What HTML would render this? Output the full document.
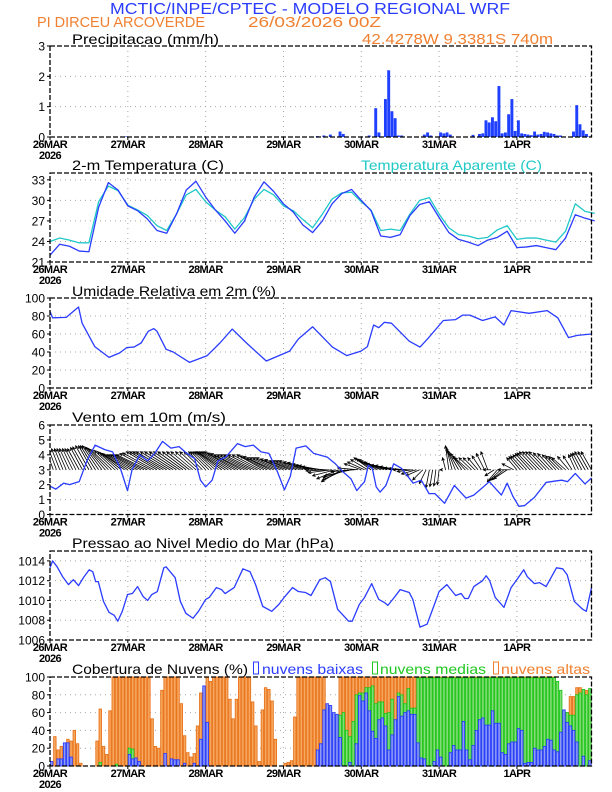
<!DOCTYPE html>
<html><head><meta charset="utf-8"><title>Meteograma WRF</title>
<style>
html,body{margin:0;padding:0;background:#fff;}
svg{display:block;font-family:"Liberation Sans",sans-serif;}
.yl{font-size:12px;fill:#000;text-anchor:end;}
.xl{font-size:11px;font-weight:bold;fill:#000;text-anchor:middle;letter-spacing:-0.6px;}
.pt{font-size:14px;fill:#000;}
</style></head>
<body>
<svg id="chart" width="612" height="792" viewBox="0 0 612 792" xmlns="http://www.w3.org/2000/svg">
<rect x="0" y="0" width="612" height="792" fill="#fff"/>
<text x="110" y="14" font-size="16" fill="#2a3cff" textLength="400" lengthAdjust="spacingAndGlyphs">MCTIC/INPE/CPTEC - MODELO REGIONAL WRF</text>
<text x="37" y="27" font-size="15" fill="#f08030" textLength="168" lengthAdjust="spacingAndGlyphs">PI DIRCEU ARCOVERDE</text>
<text x="248" y="27" font-size="15" fill="#f08030" textLength="133" lengthAdjust="spacingAndGlyphs">26/03/2026 00Z</text>
<text x="362" y="44" font-size="15" fill="#f08030" textLength="191" lengthAdjust="spacingAndGlyphs">42.4278W 9.3381S 740m</text>
<text class="pt" x="72" y="44" textLength="147" lengthAdjust="spacingAndGlyphs">Precipitacao (mm/h)</text>
<text class="pt" x="72" y="170" textLength="152" lengthAdjust="spacingAndGlyphs">2-m Temperatura (C)</text>
<text x="361" y="170" font-size="14" fill="#20c8c8" textLength="181" lengthAdjust="spacingAndGlyphs">Temperatura Aparente (C)</text>
<text class="pt" x="72" y="296" textLength="204" lengthAdjust="spacingAndGlyphs">Umidade Relativa em 2m (%)</text>
<text class="pt" x="72" y="422" textLength="154" lengthAdjust="spacingAndGlyphs">Vento em 10m (m/s)</text>
<text class="pt" x="72" y="548" textLength="262" lengthAdjust="spacingAndGlyphs">Pressao ao Nivel Medio do Mar (hPa)</text>
<text class="pt" x="72" y="674" textLength="176" lengthAdjust="spacingAndGlyphs">Cobertura de Nuvens (%)</text>
<rect x="253.5" y="662" width="5" height="12" fill="none" stroke="#2a3cff" stroke-width="1"/>
<text x="262" y="674" font-size="14" fill="#2a3cff" textLength="101" lengthAdjust="spacingAndGlyphs">nuvens baixas</text>
<rect x="372.5" y="662" width="5" height="12" fill="none" stroke="#20c820" stroke-width="1"/>
<text x="380" y="674" font-size="14" fill="#20c820" textLength="106" lengthAdjust="spacingAndGlyphs">nuvens medias</text>
<rect x="493.5" y="662" width="5" height="12" fill="none" stroke="#f08030" stroke-width="1"/>
<text x="501" y="674" font-size="14" fill="#f08030" textLength="89" lengthAdjust="spacingAndGlyphs">nuvens altas</text>
<g id="layer"></g>
</svg>
<script>
// ---- shared axis data ----
const dayLabels = ["26MAR","27MAR","28MAR","29MAR","30MAR","31MAR","1APR"];
const yearLabel = "2026";
// ---- precipitation (mm/h) ----
const precipHours = [23,82,84,86,89,90,98,100,101,103,104,105,106,107,108,115,116,117,120,121,122,123,130,132,133,134,135,136,137,138,139,140,141,142,143,144,145,146,147,148,149,150,151,152,153,154,155,156,157,161,162,163,164,165,166];
const precipValues = [0.02,0.03,0.05,0.08,0.18,0.1,0.05,0.95,0.15,1.25,2.2,0.85,0.62,0.05,0.05,0.08,0.15,0.05,0.15,0.12,0.15,0.08,0.07,0.1,0.12,0.55,0.48,0.65,0.52,1.68,0.12,0.15,0.75,1.25,0.2,0.55,0.12,0.1,0.08,0.06,0.18,0.08,0.1,0.17,0.15,0.12,0.1,0.05,0.05,0.18,1.05,0.42,0.22,0.1,0.02];
const precipTicks = [0,1,2,3];
// ---- temperature (C), 3-hourly ----
const tempHours = [0,3,6,9,12,15,18,21,24,27,30,33,36,39,42,45,48,51,54,57,60,63,66,69,72,75,78,81,84,87,90,93,96,99,102,105,108,111,114,117,120,123,126,129,132,135,138,141,144,147,150,153,156,159,162,165,168];
const tempValues = [22.0,23.6,23.3,22.6,22.5,29.0,32.6,31.5,29.2,28.5,27.3,25.6,25.2,28.0,31.5,32.8,30.5,28.6,27.0,25.2,27.0,30.5,32.7,31.3,29.5,28.3,26.4,25.3,27.0,29.5,31.0,31.6,30.0,28.5,24.8,24.6,25.0,27.8,29.4,29.8,27.5,25.3,24.3,23.9,23.4,24.2,24.6,25.5,23.1,23.2,23.4,23.1,22.8,24.5,27.9,27.4,27.0];
const apparentValues = [24.0,24.5,24.2,23.8,23.8,29.8,32.1,31.4,29.3,28.6,27.8,26.3,25.6,28.0,30.8,31.6,29.8,28.6,27.6,25.8,27.5,30.2,31.6,30.8,29.2,28.5,27.2,26.0,28.0,30.2,31.1,31.2,29.8,28.6,25.6,25.8,25.6,28.0,30.0,30.4,28.0,26.0,25.0,24.8,24.4,24.6,25.7,26.3,24.3,24.5,24.5,24.2,23.9,25.5,29.5,28.4,28.1];
const tempTicks = [21,24,27,30,33];
// ---- relative humidity (%) ----
const humHours = [0,0.8,5,8.8,9.9,13.8,18.2,21.5,23.7,25.9,28.1,30.3,32,33,35.8,38,43,48.5,52.4,56.2,60.6,66.7,73.9,76.6,81,87.1,91.5,95.9,97.9,99.8,101.4,103.1,105.3,110.8,114.1,116.3,121.3,125.1,127.3,129.5,133.4,137.3,140,142.2,147.7,153.3,156.6,159.9,162.6,167];
const humValues = [85,78,78.5,90,72,46,34,39,45,45.5,50,63,66,63,43,40,28.5,36,50,65.5,50,30,41,54.5,68,45.5,36,41,46,70,67,73,72,52,45.5,54,75,76,81,81,75,79,70,86,83,86,78,56,58.5,60];
const humTicks = [0,20,40,60,80,100];
// ---- wind speed (m/s) ----
const windHours = [0,1.8,4.2,6,9,11.4,13.9,16.9,19.3,21.7,23.9,25.3,27.7,30.1,32.3,34.7,37.3,39.8,42.2,44.6,46.4,48,50,51.8,54.2,57.8,60.2,62.7,65.1,67.5,69.9,72.3,74.1,75.9,78.9,81.3,85.5,88,90.4,92.8,94.6,97,98.2,99.4,100.6,101.8,103.6,106,108.4,112,114.5,116.9,118.7,121.7,124.7,128.3,130.7,135.5,139.2,141,142.8,144.6,146.4,149.4,153,156,157.8,159.6,162,165,167];
const windSpeed = [1.9,1.7,2.1,2.0,2.2,3.6,4.65,4.35,4.2,3.1,1.6,3.0,4.0,3.6,4.1,4.9,4.45,4.55,4.1,3.75,2.3,1.85,2.3,3.6,3.85,4.75,4.55,4.65,4.2,4.1,3.0,1.65,2.55,4.45,4.6,4.1,3.85,3.4,2.85,2.4,1.6,2.2,3.3,3.1,1.85,1.5,1.95,3.4,3.1,2.1,2.3,1.4,1.4,0.75,1.95,1.1,1.3,2.2,1.3,2.1,1.2,0.55,0.6,1.15,2.15,2.25,2.3,2.2,2.75,2.05,2.45];
// hourly wind vectors (u east, v north, m/s), index = forecast hour
const windU = [-1.8,-2,-2.2,-2.4,-2.5,-2.7,-2.9,-3,-3.2,-3.4,-3.5,-3.8,-3.9,-4,-4.4,-4.8,-5,-5.5,-5.8,-6,-6,-6,-6.2,-6.6,-7,-7.4,-7.8,-8,-8.4,-8.7,-9,-9,-9.1,-9,-9,-9,-9,-8.7,-8.4,-8,-7.7,-7.4,-7,-6.7,-6.4,-6,-5.7,-5.4,-5,-5.3,-5.6,-6,-6.6,-7.3,-8,-8.4,-8.7,-9,-9,-9,-9,-9,-9,-9,-8.7,-8.4,-8,-8,-8,-8,-8,-8,-8,-7.7,-7.4,-7,-7,-7,-7,-6.7,-6.4,-6,-6,-6,-6,-6.3,-6.7,-7,-6.7,-6.4,-6,-6.7,-7.4,-8,-7,-6,-5,-5,-5,-5,-5.3,-5.6,-6,-6.3,-6.7,-7,-6.7,-6.4,-6,-5.7,-5.4,-5,-4.7,-4.4,-4,-3,-2,-1,-0.8,-0.6,-0.5,-0.7,-0.9,-1,-1.7,-2.4,-3,-3.3,-3.7,-4,-3.7,-3.4,-3,-2.7,-2.4,-2,-2.3,-2.7,-3,-3.3,-3.7,-4,-3.7,-3.4,-3,-3.3,-3.7,-4,-4.3,-4.7,-5,-5,-5,-5,-4.7,-4.4,-4,-4,-4,-4,-3.3,-2.6,-2,-2.3,-2.7,-3,-3,-3];
const windV = [3,3.2,3.3,3.5,3.5,3.5,3.5,3.5,3.5,3.5,3.7,3.8,4,4,4,4,3.8,3.7,3.5,3.3,3.2,3,2.8,2.7,2.5,2.5,2.5,2.5,2.5,2.5,2.5,2.7,2.8,3,3,3,3,3,3,3,3,3,3,3,3,3,3,3,3,3,3,3,3,3,3,3,3,3,2.8,2.7,2.5,2.5,2.5,2.5,2.5,2.5,2.5,2.3,2.2,2,2,2,2,1.8,1.7,1.5,1.5,1.5,1.5,1.3,1.2,1,0.8,0.7,0.5,0.2,-0.2,-0.5,-1,-1.5,-2,-1.7,-1.3,-1,-0.3,0.3,1,1.3,1.7,2,1.8,1.7,1.5,1.3,1.2,1,0.8,0.7,0.5,0.3,0.2,0,-0.3,-0.7,-1,-1.7,-2.3,-3,-2.8,-2.7,-2.5,0,2,4,3.7,3.3,3,2.7,2.3,2,2,2,2,2.3,2.7,3,0,-1,-2,-1.8,-1.7,-1.5,0,1,2,2.2,2.3,2.5,2.7,2.8,3,3,3,3,2.8,2.7,2.5,2.3,2.2,2,2.2,2.3,2.5,2.7,2.8,3,3,3];
const windTicks = [0,1,2,3,4,5,6];
// ---- pressure (hPa) ----
const presHours = [0,0.8,2.2,3.9,5.7,7.2,8.8,10.5,12.1,13.2,14.1,14.9,16.5,18.2,19.8,20.9,22.3,23.9,25.4,27,28.7,30.1,31.4,33.1,35.1,35.8,38.6,40.2,41.9,44.1,45.8,48,49.1,51.3,52.9,54,56.8,59.5,61.7,63.4,65.6,68.4,70.6,72.2,74.8,76.6,78.8,80.5,83.2,84.9,86.5,88.7,92.1,93.2,95.4,97,99.2,101.4,103.1,104.2,106.4,108,110.8,111.9,114.1,116.3,118,120,122.4,125.1,126.8,127.9,129,130.7,133.4,134.5,135.6,137.3,140,142.2,144.4,146.1,147.2,149.4,151,153,156.2,158.1,159.5,161.7,164.3,165.4,167];
const presValues = [1013.3,1014,1013.4,1012.4,1011.6,1012.1,1011.5,1012.4,1013.1,1012.9,1011.9,1011.9,1009.9,1008.8,1008.5,1007.9,1008.9,1010.6,1010.7,1011.4,1010.4,1010,1010.6,1010.9,1013.3,1013.4,1012.3,1009.9,1008.7,1008.2,1008.9,1010.1,1010.3,1011.3,1011.1,1010.7,1011.3,1013.2,1012.9,1011.6,1009.4,1008.9,1009.6,1010.3,1011.3,1010.9,1010.8,1010.5,1012.1,1012.3,1011.9,1009.1,1007.9,1007.9,1009.6,1010.3,1011.7,1010.1,1009.8,1009.5,1010.4,1011.1,1010.8,1010.1,1007.3,1007.6,1009.1,1010.9,1011.6,1010.5,1010.7,1010.2,1010.2,1011.4,1012,1012.5,1012,1010.3,1009.3,1011.3,1012.3,1013.1,1012.4,1011.7,1011.8,1011.4,1013.3,1013.2,1012.6,1009.9,1009.1,1008.9,1011.3];
const presTicks = [1006,1008,1010,1012,1014];
// ---- cloud cover (%), step entries: value holds from hour until next entry ----
const highHours = [0,1,2,3,4,5,6,7,8,9,10,14,15,16,17,18,19,31,32,33,34,35,40,41,42,43,44,45,46,47,48,49,50,55,56,57,58,62,63,64,65,66,67,68,69,70,72,73,74,75,76,85,86,87,88,89,156,160,162,164,166];
const highValues = [0,33,18,22,12,30,28,40,25,3,0,28,64,22,13,62,100,53,22,20,85,100,70,34,15,10,14,45,82,87,100,95,100,75,53,75,100,72,45,5,63,88,86,73,30,0,3,4,6,55,100,65,52,50,48,100,60,78,88,85,80];
const midHours = [0,15,16,20,21,24,25,26,88,89,90,91,92,93,94,95,97,99,100,101,103,104,105,106,107,108,109,110,111,113,156,157,158,159,160,162,163,164,165,166];
const midValues = [0,4,0,2,0,20,19,0,58,57,60,40,33,50,80,82,88,90,70,72,59,60,75,28,82,80,70,87,65,99,95,85,63,60,57,80,82,86,80,87];
const lowHours = [0,1,2,4,6,7,24,25,26,27,28,35,36,37,38,39,40,41,42,44,45,46,47,48,49,82,83,84,85,86,87,88,89,90,92,93,94,95,96,97,98,99,100,101,102,103,104,105,106,107,108,109,110,111,113,114,115,116,118,119,120,121,123,124,125,127,128,129,130,131,132,133,134,136,137,139,140,141,142,144,145,146,147,149,150,152,153,154,155,156,157,158,159,160,161,162,163,164,165,166];
const lowValues = [5,0,8,26,10,0,13,8,9,5,0,14,0,8,7,7,0,3,0,3,0,30,90,49,0,18,25,63,70,68,60,58,32,0,4,0,25,79,73,82,62,39,31,52,54,45,18,35,52,78,56,60,62,58,26,9,8,0,5,18,10,0,15,23,18,50,18,7,23,40,52,54,46,62,48,15,13,25,27,42,40,3,4,20,18,22,30,29,18,16,38,63,49,45,40,27,0,11,0,6];
const cloudTicks = [0,20,40,60,80,100];

// ---- geometry ----
const X0 = 50, X1 = 591.5, HMAX = 167;
function xS(h){ return X0 + h * (X1 - X0) / HMAX; }
const NS = "http://www.w3.org/2000/svg";
const layer = document.getElementById('layer');
function mk(tag, attrs, parent){
  const e = document.createElementNS(NS, tag);
  for (const k in attrs) e.setAttribute(k, attrs[k]);
  (parent || layer).appendChild(e);
  return e;
}
function yScale(p){ return v => p.bottom - (v - p.min) * (p.bottom - p.top) / (p.max - p.min); }

const panels = [
  {key:'precip', top:46, bottom:137, min:0, max:3, ticks:precipTicks},
  {key:'temp', top:173, bottom:262, min:21, max:34, ticks:tempTicks},
  {key:'humidity', top:298, bottom:388, min:0, max:100, ticks:humTicks},
  {key:'wind', top:425, bottom:514.5, min:0, max:6, ticks:windTicks},
  {key:'pressure', top:551, bottom:640, min:1006, max:1015, ticks:presTicks},
  {key:'cloud', top:677, bottom:766, min:0, max:100, ticks:cloudTicks}
];

function drawFrame(p){
  const y = yScale(p);
  const g = mk('g', {});
  
  
  p.ticks.forEach(t => {
    if (t === p.min || t === p.max) return;
    const l = mk('line', {x1:X0, x2:X1, y1:y(t), y2:y(t), stroke:'#a8a8a8', 'stroke-width':1, 'stroke-dasharray':'1,4'}, g);
    
    
  });
  for (let d = 1; d < dayLabels.length; d++) {
    const x = xS(d * 24);
    const l = mk('line', {x1:x, x2:x, y1:p.top, y2:p.bottom, stroke:'#a8a8a8', 'stroke-width':1, 'stroke-dasharray':'1,4'}, g);
    
    
  }
  p.ticks.forEach(t => {
    mk('line', {x1:X0-3, x2:X0, y1:y(t), y2:y(t), stroke:'#000', 'stroke-width':1}, g);
    const tx = mk('text', {x:X0-5, y:y(t)+4.5, class:'yl'}, g);
    
    
    tx.textContent = String(t);
  });
  dayLabels.forEach((lab, d) => {
    const x = xS(d * 24);
    mk('line', {x1:x, x2:x, y1:p.bottom, y2:p.bottom+3, stroke:'#000', 'stroke-width':1}, g);
    const tx = mk('text', {x:x, y:p.bottom+11, class:'xl'}, g);
    
    
    tx.textContent = lab;
  });
  const yr = mk('text', {x:X0, y:p.bottom+22, class:'xl'}, g);
  
  
  yr.textContent = yearLabel;
  return {g, y};
}
function drawBorder(p){
  const r = mk('rect', {x:X0, y:p.top, width:X1-X0, height:p.bottom-p.top, fill:'none', stroke:'#000', 'stroke-width':1.3, 'stroke-dasharray':'5,2'});
  
  
}
function drawLine(hours, vals, y, color, name, w){
  const pts = hours.map((h,i) => xS(h).toFixed(2) + ',' + y(vals[i]).toFixed(2)).join(' ');
  const pl = mk('polyline', {points:pts, fill:'none', stroke:color, 'stroke-width':w || 1.3, 'stroke-linejoin':'round'});
  
  
}
function stepVal(hours, vals, h){
  let v = 0;
  for (let i = 0; i < hours.length; i++) { if (hours[i] <= h) v = vals[i]; else break; }
  return v;
}
const clip = mk('clipPath', {id:'plotclip'});
mk('rect', {x:X0, y:0, width:X1-X0, height:792}, clip);

// panel 1: precipitation
(function(){
  const p = panels[0]; const {y} = drawFrame(p);
  const w = (X1 - X0) / HMAX;
  precipHours.forEach((h,i) => {
    const r = mk('rect', {x:xS(h), y:y(precipValues[i]), width:w*0.9, height:p.bottom - y(precipValues[i]), fill:'#2040ff'});
    
    
  });
  drawBorder(p);
})();
// panel 2: temperature
(function(){
  const p = panels[1]; const {y} = drawFrame(p);
  drawLine(tempHours, apparentValues, y, '#20c8c8', 'apparent-temperature-line');
  drawLine(tempHours, tempValues, y, '#2a3cff', 'temperature-line');
  drawBorder(p);
})();
// panel 3: humidity
(function(){
  const p = panels[2]; const {y} = drawFrame(p);
  drawLine(humHours, humValues, y, '#2a3cff', 'humidity-line');
  drawBorder(p);
})();
// panel 4: wind
(function(){
  const p = panels[3]; const {y} = drawFrame(p);
  const ku = 3.4, kv = 6;
  const base = y(3);
  const ag = mk('g', {'clip-path':'url(#plotclip)'});
  
  
  windU.forEach((u,h) => {
    const x0 = xS(h), x1 = x0 + u*ku, y1 = base - windV[h]*kv;
    const ang = Math.atan2(y1 - base, x1 - x0);
    const hl = 3.2;
    const a1x = x1 - hl*Math.cos(ang - 0.45), a1y = y1 - hl*Math.sin(ang - 0.45);
    const a2x = x1 - hl*Math.cos(ang + 0.45), a2y = y1 - hl*Math.sin(ang + 0.45);
    const pth = mk('path', {d:`M${x0},${base}L${x1},${y1}M${a1x},${a1y}L${x1},${y1}L${a2x},${a2y}`, stroke:'#000', 'stroke-width':0.8, fill:'none'}, ag);
    
    
  });
  drawLine(windHours, windSpeed, y, '#2a3cff', 'wind-speed-line');
  drawBorder(p);
})();
// panel 5: pressure
(function(){
  const p = panels[4]; const {y} = drawFrame(p);
  drawLine(presHours, presValues, y, '#2a3cff', 'pressure-line');
  drawBorder(p);
})();
// panel 6: clouds
(function(){
  const p = panels[5]; const {y} = drawFrame(p);
  const w = (X1 - X0) / HMAX;
  const series = [
    {hours:highHours, vals:highValues, fill:'#f7a860', stroke:'#e8741c', name:'high-cloud-bar'},
    {hours:midHours, vals:midValues, fill:'#86dc78', stroke:'#1ec81e', name:'mid-cloud-bar'},
    {hours:lowHours, vals:lowValues, fill:'#8e9cf4', stroke:'#2a3cff', name:'low-cloud-bar'}
  ];
  series.forEach(s => {
    for (let h = 0; h < HMAX; h++) {
      const v = stepVal(s.hours, s.vals, h);
      if (v <= 0) continue;
      const r = mk('rect', {x:xS(h)+0.4, y:y(v), width:w-0.8, height:p.bottom - y(v), fill:s.fill, stroke:s.stroke, 'stroke-width':0.9});
      
      
    }
  });
  drawBorder(p);
})();
</script>
</body></html>
